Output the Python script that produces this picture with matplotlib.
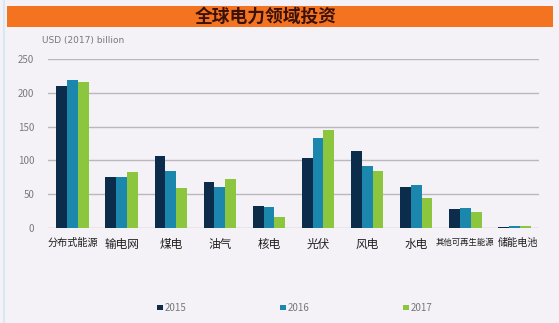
import matplotlib
matplotlib.use("Agg")
import matplotlib.pyplot as plt
import matplotlib.transforms as mtransforms
import numpy as np
from matplotlib.patches import Rectangle
from matplotlib.lines import Line2D

plt.rcParams['font.family'] = ['Noto Sans CJK SC', 'DejaVu Sans']

categories = ['分布式能源', '输电网', '煤电', '油气', '核电', '光伏', '风电', '水电', '其他可再生能源', '储能电池']
years = ['2015', '2016', '2017']
v2015 = [210, 75, 107, 67.5, 33, 103, 114, 60.5, 28, 2]
v2016 = [218.5, 76, 85, 61, 30.5, 133, 91, 64, 29.5, 2.5]
v2017 = [216, 83, 58.5, 73, 17, 145, 85, 44, 23.5, 2.5]
yticks = [0, 50, 100, 150, 200, 250]
colors = ['#0c2c4c', '#1b87ad', '#8cc63f']

W, H = 559, 323
fig = plt.figure(figsize=(W / 100, H / 100), dpi=100)
fig.patch.set_facecolor('#f4f2f6')

# orange banner
fig.patches.append(Rectangle((7 / W, 1 - 27 / H), (553 - 7) / W, 21 / H,
                             transform=fig.transFigure, facecolor='#f47321',
                             edgecolor='none', zorder=0))
fig.text(266 / W, 1 - 16.5 / H, '全球电力领域投资', ha='center', va='center',
         fontsize=12.8, fontweight='bold', color='#3a1208')
# left faint blue border
fig.add_artist(Line2D([3.5 / W, 3.5 / W], [0, 1], transform=fig.transFigure,
                      color='#d8e8f4', lw=1.5))

ax = fig.add_axes([48 / W, 95 / H, (539 - 48) / W, 169 / H])
ax.set_facecolor('none')
x = np.arange(len(categories))
bw = 0.22
for i, (vals, c, yr) in enumerate(zip([v2015, v2016, v2017], colors, years)):
    ax.bar(x + (i - 1) * bw, vals, width=bw, color=c, label=yr, zorder=3)

ax.set_xlim(-0.5, len(categories) - 0.5)
ax.set_ylim(0, 250)
ax.set_yticks(yticks)
ax.yaxis.grid(True, color='#b9b9bb', lw=1, zorder=0)
ax.set_axisbelow(True)
for s in ax.spines.values():
    s.set_visible(False)
ax.tick_params(axis='y', length=0, labelsize=7, labelcolor='#7a7a7a', pad=10)
ax.tick_params(axis='x', length=0, pad=7)
ax.set_xticks(x)
ax.set_xticklabels(categories, color='#1e1e1e')
for lbl, cat in zip(ax.get_xticklabels(), categories):
    n = len(cat)
    lbl.set_fontsize(6.0 if n > 5 else (7.3 if n >= 4 else 8.4))
    if cat == '储能电池':
        lbl.set_transform(lbl.get_transform() +
                          mtransforms.ScaledTranslation(4 / 100, 0, fig.dpi_scale_trans))

fig.text(42 / W, 1 - 41 / H, 'USD (2017) billion', fontsize=6.5, color='#777777',
         va='center', ha='left', family='DejaVu Sans')

handles, labels = ax.get_legend_handles_labels()
leg = fig.legend(handles, labels, loc='center', bbox_to_anchor=(295 / W, 1 - 308 / H),
                 ncol=3, frameon=False, fontsize=7, handlelength=0.55, handleheight=0.55,
                 handletextpad=0.25, columnspacing=9.6, labelcolor='#777777')

fig.savefig('out.png', dpi=100, facecolor=fig.get_facecolor())
